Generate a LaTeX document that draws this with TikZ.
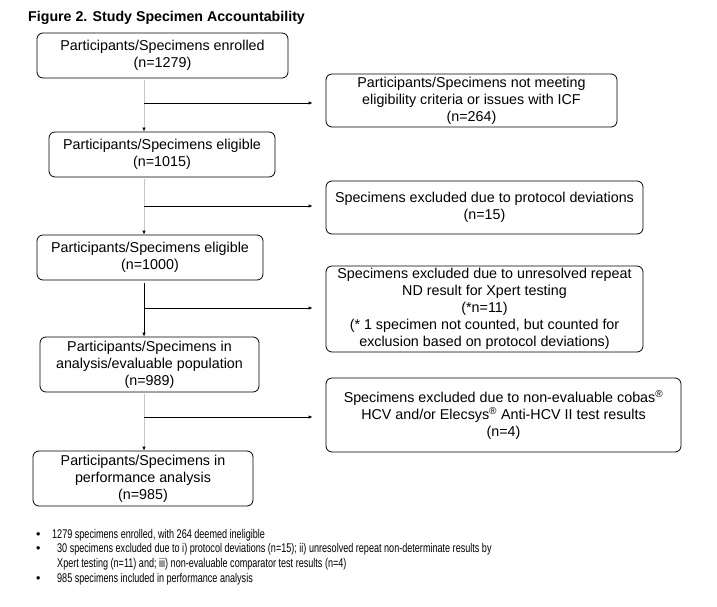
\documentclass[tikz,border=0pt]{standalone}
\usepackage{fontspec}
\setmainfont{Liberation Sans}
\usetikzlibrary{arrows.meta}
\begin{document}
\begin{tikzpicture}[x=1pt,y=-1pt,
  box/.style={draw=black, line width=0.8pt, rounded corners=6pt, align=center,
    inner sep=0pt, font=\fontsize{14.3}{17}\selectfont,
    execute at begin node={\rule{0pt}{16pt}}},
  vline/.style={draw=black!22, line width=0.8pt, -{Latex[length=4pt,width=3.5pt,color=black]}},
  vdark/.style={draw=black, line width=0.8pt, -{Latex[length=4pt,width=3.5pt]}},
  hline/.style={draw=black, line width=0.8pt, -{Latex[length=4pt,width=3.5pt]}, shorten >=13pt},
  bullettxt/.style={anchor=base west, inner sep=0pt, font=\fontsize{12.6}{15}\selectfont}
]
\useasboundingbox (0,0) rectangle (717,607);
\node[anchor=base west, inner sep=0pt, font=\bfseries\fontsize{14.2}{16}\selectfont] (title) at (28,21.7) {Figure 2. Study Specimen Accountability};

\node[box, minimum width=251pt, minimum height=45pt] (b1) at (162.5,55.5) {Participants/Specimens enrolled\\(n=1279)};
\node[box, minimum width=291pt, minimum height=53pt] (r1) at (471.5,100.5) {Participants/Specimens not meeting\\eligibility criteria or issues with ICF\\(n=264)};
\node[box, minimum width=226pt, minimum height=45pt] (b2) at (162,154.5) {Participants/Specimens eligible\\(n=1015)};
\node[box, minimum width=317pt, minimum height=53pt] (r2) at (484.5,207.5) {Specimens excluded due to protocol deviations\\(n=15)};
\node[box, minimum width=226pt, minimum height=45pt] (b3) at (150,257.5) {Participants/Specimens eligible\\(n=1000)};
\node[box, minimum width=317pt, minimum height=86pt] (r3) at (484.5,309) {Specimens excluded due to unresolved repeat\\ND result for Xpert testing\\(*n=11)\\(* 1 specimen not counted, but counted for\\exclusion based on protocol deviations)};
\node[box, minimum width=219pt, minimum height=55pt] (b4) at (149.5,364.5) {Participants/Specimens in\\analysis/evaluable population\\(n=989)};
\node[box, minimum width=355pt, minimum height=74pt] (r4) at (503.5,415) {Specimens excluded due to non-evaluable cobas\textsuperscript{®}\\HCV and/or Elecsys\textsuperscript{®} Anti-HCV II test results\\(n=4)};
\node[box, minimum width=220pt, minimum height=55pt] (b5) at (143,478.5) {Participants/Specimens in\\performance analysis\\(n=985)};

\coordinate (v) at (144,0);
\coordinate (j1) at (144,103);
\coordinate (j2) at (144,206);
\coordinate (j3) at (144,308);
\coordinate (j4) at (144,417);

\draw[vline] ([yshift=-2pt]b1.south -| v) -- (b2.north -| v);
\draw[hline] (j1) -- (j1 -| r1.west);
\draw[vline] ([yshift=-2pt]b2.south -| v) -- (b3.north -| v);
\draw[hline] (j2) -- (j2 -| r2.west);
\draw[vdark] ([yshift=-3pt]b3.south -| v) -- (b4.north -| v);
\draw[hline] (j3) -- (j3 -| r3.west);
\draw[vline] ([yshift=-2pt]b4.south -| v) -- (b5.north -| v);
\draw[hline] (j4) -- (j4 -| r4.west);

\node[bullettxt] (d1) at (36,538) {•};
\node[bullettxt] (t1) at (52,538) {\scalebox{0.72}[1]{1279 specimens enrolled, with 264 deemed ineligible}};
\node[bullettxt] (d2) at (36,552) {•};
\node[bullettxt] (t2) at (57,552) {\scalebox{0.72}[1]{30 specimens excluded due to i) protocol deviations (n=15); ii) unresolved repeat non-determinate results by}};
\node[bullettxt] (t2b) at (57,567) {\scalebox{0.72}[1]{Xpert testing (n=11) and; iii) non-evaluable comparator test results (n=4)}};
\node[bullettxt] (d3) at (36,582) {•};
\node[bullettxt] (t3) at (57,582) {\scalebox{0.72}[1]{985 specimens included in performance analysis}};
\end{tikzpicture}
\end{document}
